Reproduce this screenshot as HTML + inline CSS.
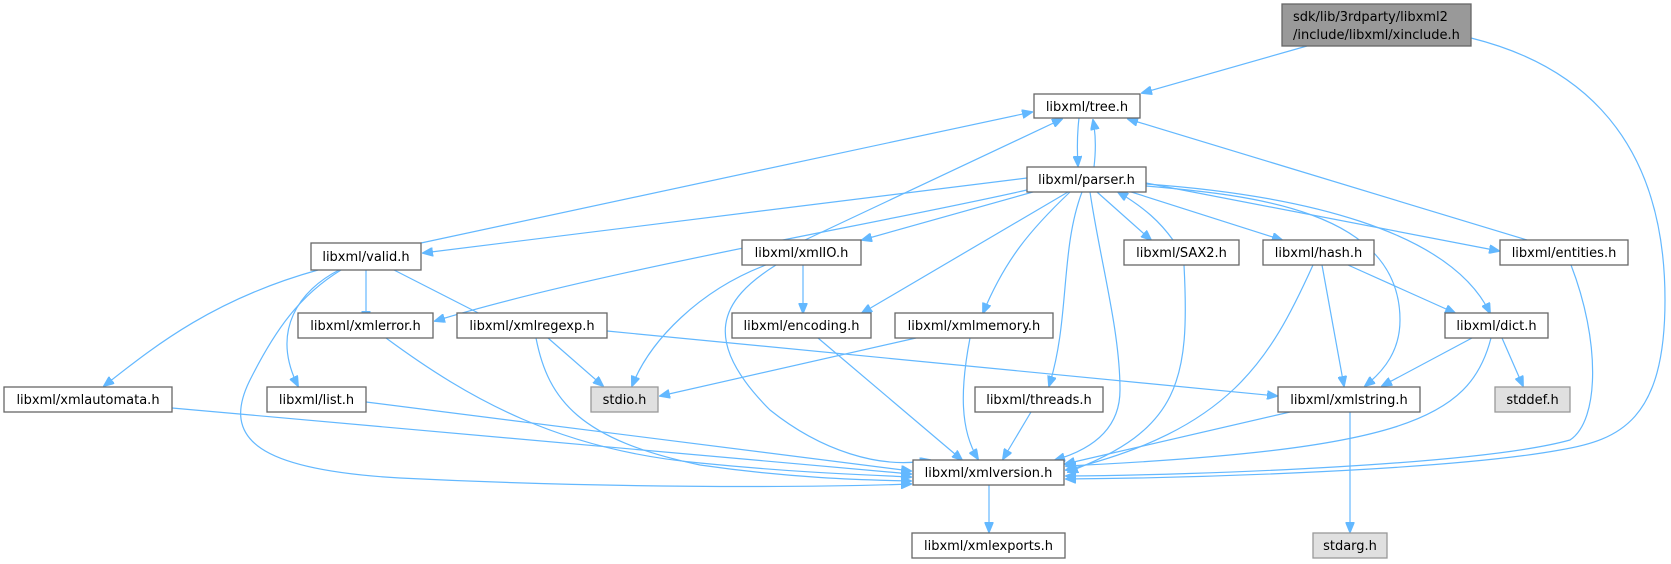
<!DOCTYPE html>
<html><head><meta charset="utf-8"><style>
html,body{margin:0;padding:0;background:#fff;}
svg{display:block;}
text{font-family:"DejaVu Sans","Liberation Sans",sans-serif;font-size:13px;fill:#000;}
.e{fill:none;stroke:#63b8ff;stroke-width:1.2;}
.n rect{fill:#fff;stroke:#666;stroke-width:1.3;}
.g rect{fill:#e0e0e0;stroke:#999;stroke-width:1.3;}
</style></head><body>
<svg width="1671" height="564" viewBox="0 0 1671 564" xmlns="http://www.w3.org/2000/svg">
<defs>
<marker id="a" markerWidth="11" markerHeight="9" refX="10" refY="4.5" orient="auto" markerUnits="userSpaceOnUse">
<path d="M0,0 L11,4.5 L0,9 Z" fill="#63b8ff" stroke="#63b8ff"/>
</marker>
</defs>
<g marker-end="url(#a)">
<path class="e" d="M1307,46 L1142,93"/>
<path class="e" d="M1471,38 C1560,60 1665,120 1665,300 C1665,420 1620,440 1560,450 C1450,470 1200,478 1066,479"/>
<path class="e" d="M1079,118 C1077,135 1077,150 1078,166"/>
<path class="e" d="M1094,167 C1096,150 1096,135 1093,120"/>
<path class="e" d="M421,243 L1032,112"/>
<path class="e" d="M805,240 L1062,119"/>
<path class="e" d="M1527,240 L1128,119"/>
<path class="e" d="M1027,178 L423,253"/>
<path class="e" d="M1040,187 C900,220 600,270 435,321"/>
<path class="e" d="M1040,190 L862,240"/>
<path class="e" d="M1068,192 L862,313"/>
<path class="e" d="M1070,192 C1030,230 1005,260 983,313"/>
<path class="e" d="M1082,192 C1060,250 1070,320 1049,386"/>
<path class="e" d="M1090,192 C1100,260 1120,330 1120,390 C1120,430 1090,450 1055,460"/>
<path class="e" d="M1097,192 L1151,240"/>
<path class="e" d="M1173,240 C1160,222 1145,208 1118,192"/>
<path class="e" d="M1125,190 L1282,240"/>
<path class="e" d="M1146,183 L1499,251"/>
<path class="e" d="M1146,186 C1250,195 1400,210 1400,320 C1400,350 1385,370 1365,386"/>
<path class="e" d="M1146,184 C1300,195 1450,230 1490,313"/>
<path class="e" d="M318,270 C210,300 150,350 104,386"/>
<path class="e" d="M339,270 C300,290 270,330 298,386"/>
<path class="e" d="M366,270 L366,321"/>
<path class="e" d="M394,270 L494,321"/>
<path class="e" d="M341,270 C300,295 275,330 250,380 C220,440 260,470 400,478 C600,488 800,488 911,484"/>
<path class="e" d="M766,265 C700,290 650,340 632,386"/>
<path class="e" d="M803,265 L803,313"/>
<path class="e" d="M776,265 C720,300 700,340 770,410 C820,450 880,470 930,460"/>
<path class="e" d="M548,338 L603,386"/>
<path class="e" d="M536,338 C548,400 580,440 700,465 C790,478 860,480 911,481"/>
<path class="e" d="M607,331 L1277,396"/>
<path class="e" d="M386,338 C470,400 560,450 700,463 C800,473 870,475 911,477"/>
<path class="e" d="M818,338 L962,460"/>
<path class="e" d="M916,338 L660,396"/>
<path class="e" d="M970,338 C960,390 960,430 978,459"/>
<path class="e" d="M1184,265 C1190,380 1180,430 1068,472"/>
<path class="e" d="M1313,265 C1270,360 1230,430 1066,470"/>
<path class="e" d="M1322,265 L1344,386"/>
<path class="e" d="M1348,265 L1455,313"/>
<path class="e" d="M1571,265 C1600,340 1600,420 1570,440 C1480,465 1200,475 1066,476"/>
<path class="e" d="M1472,338 L1382,386"/>
<path class="e" d="M1502,338 L1523,386"/>
<path class="e" d="M1491,338 C1470,420 1400,450 1066,466"/>
<path class="e" d="M172,408 L911,474"/>
<path class="e" d="M366,402 L911,471"/>
<path class="e" d="M1031,412 L1003,459"/>
<path class="e" d="M1290,412 L1065,464"/>
<path class="e" d="M1350,412 L1350,532"/>
<path class="e" d="M989,485 L989,532"/>
</g>
<g>
<rect x="1282" y="4" width="189" height="42" fill="#999" stroke="#666" stroke-width="1.3"/>
<text x="1293" y="21">sdk/lib/3rdparty/libxml2</text>
<text x="1293" y="39">/include/libxml/xinclude.h</text>
</g>
<g class="n">
<rect x="1034" y="94" width="106" height="24"/><text x="1087" y="111" text-anchor="middle">libxml/tree.h</text>
<rect x="1027" y="167" width="119" height="25"/><text x="1086.5" y="184" text-anchor="middle">libxml/parser.h</text>
<rect x="311" y="243" width="110" height="27"/><text x="366" y="261" text-anchor="middle">libxml/valid.h</text>
<rect x="742" y="240" width="119" height="25"/><text x="801.5" y="257" text-anchor="middle">libxml/xmlIO.h</text>
<rect x="1124" y="240" width="115" height="25"/><text x="1181.5" y="257" text-anchor="middle">libxml/SAX2.h</text>
<rect x="1263" y="240" width="111" height="25"/><text x="1318.5" y="257" text-anchor="middle">libxml/hash.h</text>
<rect x="1500" y="240" width="128" height="25"/><text x="1564" y="257" text-anchor="middle">libxml/entities.h</text>
<rect x="298" y="313" width="135" height="25"/><text x="365.5" y="330" text-anchor="middle">libxml/xmlerror.h</text>
<rect x="457" y="313" width="150" height="25"/><text x="532" y="330" text-anchor="middle">libxml/xmlregexp.h</text>
<rect x="732" y="313" width="139" height="25"/><text x="801.5" y="330" text-anchor="middle">libxml/encoding.h</text>
<rect x="895" y="313" width="158" height="25"/><text x="974" y="330" text-anchor="middle">libxml/xmlmemory.h</text>
<rect x="1445" y="313" width="103" height="25"/><text x="1496.5" y="330" text-anchor="middle">libxml/dict.h</text>
<rect x="4" y="387" width="168" height="25"/><text x="88" y="404" text-anchor="middle">libxml/xmlautomata.h</text>
<rect x="267" y="387" width="99" height="25"/><text x="316.5" y="404" text-anchor="middle">libxml/list.h</text>
<rect x="975" y="387" width="128" height="25"/><text x="1039" y="404" text-anchor="middle">libxml/threads.h</text>
<rect x="1278" y="387" width="142" height="25"/><text x="1349" y="404" text-anchor="middle">libxml/xmlstring.h</text>
<rect x="913" y="460" width="151" height="25"/><text x="988.5" y="477" text-anchor="middle">libxml/xmlversion.h</text>
<rect x="912" y="533" width="153" height="25"/><text x="988.5" y="550" text-anchor="middle">libxml/xmlexports.h</text>
</g>
<g class="g">
<rect x="591" y="387" width="67" height="25"/><text x="624.5" y="404" text-anchor="middle">stdio.h</text>
<rect x="1495" y="387" width="75" height="25"/><text x="1532.5" y="404" text-anchor="middle">stddef.h</text>
<rect x="1313" y="533" width="74" height="25"/><text x="1350" y="550" text-anchor="middle">stdarg.h</text>
</g>
</svg>
</body></html>
